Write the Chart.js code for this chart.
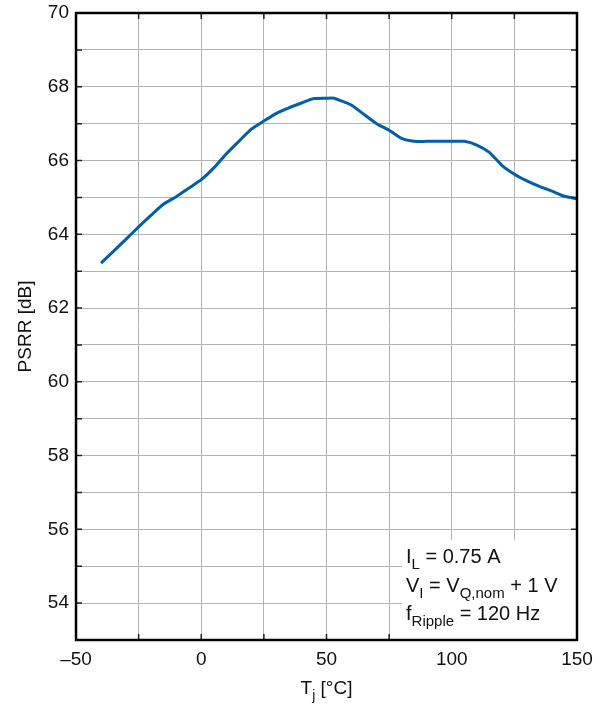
<!DOCTYPE html>
<html>
<head>
<meta charset="utf-8">
<script src="https://cdn.jsdelivr.net/npm/chart.js@4.4.1/dist/chart.umd.min.js"></script>
<style>
  html, body { margin: 0; padding: 0; background: #fff; }
  #wrap { width: 603px; height: 706px; }
</style>
</head>
<body>
<div id="wrap"><canvas id="psrr" width="603" height="706"></canvas></div>
<script>
// junction temperature [°C] and PSRR [dB]
const temps = [-40, -35, -30, -25, -20, -15, -10, -5, 0, 5, 10, 15, 20, 25, 30, 35, 40, 45, 50, 53,
  55, 60, 65, 70, 75, 80, 85, 90, 95, 100, 105, 110, 115, 120, 125, 130, 135, 140, 145, 150];
const psrr = [63.22, 63.54, 63.87, 64.2, 64.52, 64.82, 65.02, 65.25, 65.48, 65.8, 66.18, 66.52, 66.85, 67.07,
  67.28, 67.43, 67.56, 67.68, 67.69, 67.69, 67.64, 67.5, 67.25, 67.0, 66.82, 66.6, 66.52, 66.52, 66.52,
  66.52, 66.52, 66.42, 66.22, 65.87, 65.63, 65.45, 65.3, 65.17, 65.03, 64.96];

const xLabels = [-50, 0, 50, 100, 150];
const yLabels = [54, 56, 58, 60, 62, 64, 66, 68, 70];

const FONT = '"Liberation Sans", Arial, Helvetica, sans-serif';

// draws runs of text where some parts are subscripts
function drawRich(ctx, parts, x, y, size) {
  let cx = x;
  for (const p of parts) {
    const s = p.sub ? Math.round(size * 0.75) : size;
    ctx.font = s + 'px ' + FONT;
    ctx.fillText(p.t, cx, p.sub ? y + 6 : y);
    cx += ctx.measureText(p.t).width;
  }
  return cx - x;
}
function richWidth(ctx, parts, size) {
  let w = 0;
  for (const p of parts) {
    ctx.font = (p.sub ? Math.round(size * 0.75) : size) + 'px ' + FONT;
    w += ctx.measureText(p.t).width;
  }
  return w;
}

const decor = {
  id: 'decor',
  afterDraw(chart) {
    const { ctx, chartArea: a, scales: { x, y } } = chart;
    ctx.save();

    // inner ticks on all four sides
    ctx.strokeStyle = '#222';
    ctx.lineWidth = 1.5;
    ctx.beginPath();
    for (let v = -25; v < 150; v += 25) {
      const px = x.getPixelForValue(v);
      ctx.moveTo(px, a.bottom); ctx.lineTo(px, a.bottom - 6);
      ctx.moveTo(px, a.top); ctx.lineTo(px, a.top + 6);
    }
    for (let v = 54; v < 70; v += 1) {
      const py = y.getPixelForValue(v);
      ctx.moveTo(a.left, py); ctx.lineTo(a.left + 6, py);
      ctx.moveTo(a.right, py); ctx.lineTo(a.right - 6, py);
    }
    ctx.stroke();

    // conditions box
    const bx = 402, by = 540;
    ctx.fillStyle = '#fff';
    ctx.fillRect(bx, by, a.right - bx - 1, a.bottom - by - 1);
    ctx.fillStyle = '#111';
    ctx.textBaseline = 'alphabetic';
    ctx.textAlign = 'left';
    drawRich(ctx, [{ t: 'I' }, { t: 'L', sub: true }, { t: ' = 0.75 A' }], 406, 563, 20);
    drawRich(ctx, [{ t: 'V' }, { t: 'I', sub: true }, { t: ' = V' }, { t: 'Q,nom', sub: true }, { t: ' + 1 V' }], 406, 592, 20);
    drawRich(ctx, [{ t: 'f' }, { t: 'Ripple', sub: true }, { t: ' = 120 Hz' }], 406, 620, 20);

    // frame
    ctx.strokeStyle = '#000';
    ctx.lineWidth = 2.5;
    ctx.strokeRect(a.left, a.top, a.right - a.left, a.bottom - a.top);

    // axis titles
    const xt = [{ t: 'T' }, { t: 'j', sub: true }, { t: ' [°C]' }];
    const w = richWidth(ctx, xt, 19);
    drawRich(ctx, xt, (a.left + a.right) / 2 - w / 2, 694, 19);

    ctx.translate(31, (a.top + a.bottom) / 2);
    ctx.rotate(-Math.PI / 2);
    ctx.textAlign = 'center';
    ctx.font = '19px ' + FONT;
    ctx.fillText('PSRR [dB]', 0, 0);
    ctx.restore();
  }
};

new Chart(document.getElementById('psrr'), {
  type: 'line',
  data: {
    datasets: [{
      data: temps.map((t, i) => ({ x: t, y: psrr[i] })),
      borderColor: '#005eaa',
      borderWidth: 3,
      pointRadius: 0,
      tension: 0.2,
      fill: false
    }]
  },
  options: {
    responsive: false,
    animation: false,
    layout: { padding: { top: 13, right: 26, left: 0, bottom: 0 } },
    plugins: { legend: { display: false }, tooltip: { enabled: false } },
    scales: {
      x: {
        type: 'linear',
        min: -50, max: 150,
        afterFit(s) { s.height = 66; s.paddingLeft = 0; s.paddingRight = 0; },
        grid: { color: '#b4b4b4', lineWidth: 1, drawTicks: false },
        border: { display: false },
        ticks: {
          stepSize: 25,
          padding: 8,
          color: '#111',
          font: { family: FONT, size: 19 },
          autoSkip: false,
          maxRotation: 0,
          callback: v => xLabels.includes(v) ? (v < 0 ? '–' + Math.abs(v) : String(v)) : ''
        }
      },
      y: {
        min: 53, max: 70,
        afterFit(s) { s.width = 76; s.paddingTop = 0; s.paddingBottom = 0; },
        grid: { color: '#b4b4b4', lineWidth: 1, drawTicks: false },
        border: { display: false },
        ticks: {
          stepSize: 1,
          padding: 7,
          color: '#111',
          font: { family: FONT, size: 19 },
          autoSkip: false,
          callback: v => yLabels.includes(v) ? String(v) : ''
        }
      }
    }
  },
  plugins: [decor]
});
</script>
</body>
</html>
